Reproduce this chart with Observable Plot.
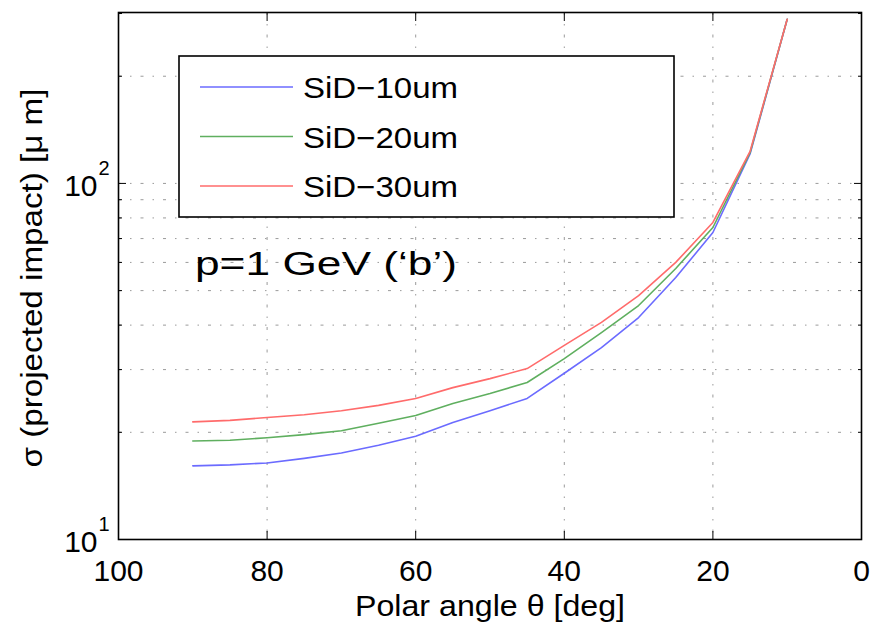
<!DOCTYPE html>
<html>
<head>
<meta charset="utf-8">
<script src="https://cdn.jsdelivr.net/npm/d3@7"></script>
<script src="https://cdn.jsdelivr.net/npm/@observablehq/plot@0.6"></script>
<style>
  html, body { margin: 0; padding: 0; background: #fff; }
  #chart { width: 870px; height: 624px; }
</style>
</head>
<body>
<div id="chart"></div>
<script>
// ---- data ----
const theta = [90, 85, 80, 75, 70, 65, 60, 55, 50, 45, 40, 35, 30, 25, 20, 15, 10];
const sid10 = [16.1, 16.2, 16.4, 16.9, 17.5, 18.4, 19.5, 21.3, 23.0, 24.9, 29.3, 34.6, 42.0, 54.4, 72.8, 121, 289];
const sid20 = [18.9, 19.0, 19.3, 19.7, 20.2, 21.2, 22.3, 24.1, 25.7, 27.6, 32.2, 38.1, 45.4, 57.7, 75.2, 122, 289];
const sid30 = [21.4, 21.6, 22.0, 22.4, 23.0, 23.8, 24.9, 26.7, 28.3, 30.2, 35.1, 40.7, 48.4, 60.0, 77.7, 123, 289];
const seriesNames = ["SiD\u221210um", "SiD\u221220um", "SiD\u221230um"];
const seriesColors = ["#6b6bff", "#5faf5f", "#ff6b6b"];
const xTicks = [100, 80, 60, 40, 20, 0];
const xGrid = [80, 60, 40, 20];
const yMajor = [10, 100];
const yExponent = ["1", "2"];
const yMinor = [20, 30, 40, 50, 60, 70, 80, 90, 200, 300];
const yGrid = [20, 30, 40, 50, 60, 70, 80, 90, 100, 200];
const annotation = "p=1 GeV (\u2018b\u2019)";
const xLabel = "Polar angle \u03b8 [deg]";
const yLabel = "\u03c3 (projected impact) [\u03bc m]";

const seriesValues = [sid10, sid20, sid30];
const rows = [];
seriesValues.forEach((vals, s) => {
  vals.forEach((v, i) => rows.push({theta: theta[i], value: v, series: seriesNames[s]}));
});

const font = "'Liberation Sans', Arial, Helvetica, sans-serif";
const gridStyle = {stroke: "#9a9a9a", strokeOpacity: 1, strokeWidth: 1, strokeDasharray: "3,9,1.5,9"};

const chart = Plot.plot({
  width: 870,
  height: 624,
  marginLeft: 118,
  marginRight: 9,
  marginTop: 12,
  marginBottom: 85,
  style: {fontFamily: font, fontSize: "30px", background: "#fff", color: "#000"},
  x: {domain: [100, 0], label: null},
  y: {type: "log", domain: [10, 302], label: null},
  color: {domain: seriesNames, range: seriesColors},
  marks: [
    Plot.gridX(xGrid, gridStyle),
    Plot.gridY(yGrid, gridStyle),
    // inward ticks
    Plot.axisX(xTicks, {anchor: "bottom", tickSize: -8, tickFormat: () => "", label: null, strokeWidth: 1}),
    Plot.axisX(xTicks, {anchor: "top", tickSize: -8, tickFormat: () => "", label: null, strokeWidth: 1}),
    Plot.axisY(yMajor, {anchor: "left", tickSize: -8, tickFormat: () => "", label: null, strokeWidth: 1}),
    Plot.axisY(yMajor, {anchor: "right", tickSize: -8, tickFormat: () => "", label: null, strokeWidth: 1}),
    Plot.axisY(yMinor, {anchor: "left", tickSize: -4, tickFormat: () => "", label: null, strokeWidth: 1}),
    Plot.axisY(yMinor, {anchor: "right", tickSize: -4, tickFormat: () => "", label: null, strokeWidth: 1}),
    // x tick labels
    Plot.axisX(xTicks, {anchor: "bottom", tickSize: 0, tickPadding: 20, tickFormat: d => String(d), label: null, fontSize: 30}),
    // y tick labels with superscripts
    Plot.text(yMajor, {y: d => d, frameAnchor: "left", dx: -21, dy: 3, textAnchor: "end", text: () => "10", fontSize: 30}),
    Plot.text(yMajor, {y: d => d, frameAnchor: "left", dx: -20, dy: -15, textAnchor: "start", text: (d, i) => yExponent[i], fontSize: 20}),
    Plot.line(rows, {x: "theta", y: "value", stroke: "series", z: "series", strokeWidth: 1.6}),
    Plot.frame({stroke: "#000", strokeWidth: 1.6})
  ]
});
document.getElementById("chart").appendChild(chart);

// ---- legend, annotation and axis titles drawn on the same SVG ----
const svg = d3.select(chart);
const lg = svg.append("g").attr("font-family", font).attr("text-anchor", "start");
lg.append("rect")
  .attr("x", 179).attr("y", 56).attr("width", 495).attr("height", 161)
  .attr("fill", "#fff").attr("stroke", "#000").attr("stroke-width", 1.6);
seriesNames.forEach((name, i) => {
  const cy = 87 + i * 49.5;
  lg.append("line")
    .attr("x1", 200).attr("x2", 293).attr("y1", cy).attr("y2", cy)
    .attr("stroke", seriesColors[i]).attr("stroke-width", 1.6);
  lg.append("text")
    .attr("x", 303).attr("y", cy + 11)
    .attr("text-anchor", "start")
    .attr("font-size", 29)
    .attr("textLength", 155).attr("lengthAdjust", "spacingAndGlyphs")
    .text(name);
});

svg.append("text")
  .attr("x", 195).attr("y", 275)
  .attr("text-anchor", "start")
  .attr("font-family", font).attr("font-size", 33)
  .attr("textLength", 262).attr("lengthAdjust", "spacingAndGlyphs")
  .text(annotation);

svg.append("text")
  .attr("x", 355).attr("y", 616)
  .attr("text-anchor", "start")
  .attr("font-family", font).attr("font-size", 30)
  .attr("textLength", 270).attr("lengthAdjust", "spacingAndGlyphs")
  .text(xLabel);

svg.append("text")
  .attr("transform", "translate(31,278) rotate(-90)")
  .attr("text-anchor", "middle").attr("dy", "0.35em")
  .attr("font-family", font).attr("font-size", 30)
  .attr("textLength", 379).attr("lengthAdjust", "spacingAndGlyphs")
  .text(yLabel);
</script>
</body>
</html>
